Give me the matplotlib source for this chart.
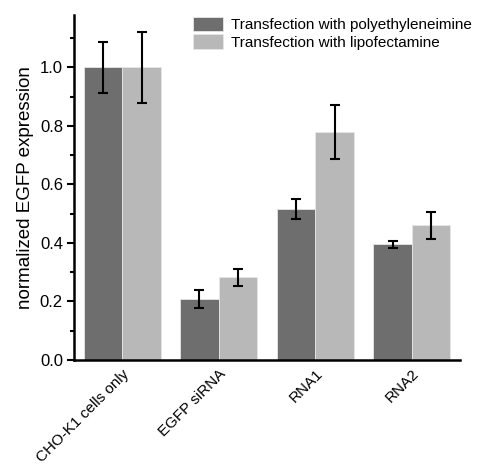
import numpy as np
import matplotlib.pyplot as plt
from matplotlib.ticker import MultipleLocator

plt.rcParams['font.family'] = ['Liberation Sans', 'DejaVu Sans']

# data
categories = ['CHO-K1 cells only', 'EGFP siRNA', 'RNA1', 'RNA2']
pei_vals = [1.0, 0.208, 0.516, 0.395]
pei_err = [0.087, 0.031, 0.033, 0.013]
lipo_vals = [1.0, 0.282, 0.779, 0.460]
lipo_err = [0.122, 0.028, 0.093, 0.045]
labels = ['Transfection with polyethyleneimine', 'Transfection with lipofectamine']

fig = plt.figure(figsize=(4.79, 4.66), dpi=100)
ax = fig.add_axes([0.1545, 0.2275, 0.806, 0.741])

x = np.arange(len(categories))
w = 0.4
ax.bar(x - w / 2, pei_vals, w, color='#6e6e6e', edgecolor='#e6e6e6', linewidth=0.6,
       label=labels[0])
ax.bar(x + w / 2, lipo_vals, w, color='#b8b8b8', edgecolor='#e6e6e6', linewidth=0.6,
       label=labels[1])
ax.errorbar(x - w / 2, pei_vals, yerr=pei_err, fmt='none', ecolor='black',
            elinewidth=1.5, capsize=3.5, capthick=1.5)
ax.errorbar(x + w / 2, lipo_vals, yerr=lipo_err, fmt='none', ecolor='black',
            elinewidth=1.5, capsize=3.5, capthick=1.5)

ax.set_xlim(-0.5, 3.5)
ax.set_ylim(0, 1.18)
ax.yaxis.set_major_locator(MultipleLocator(0.2))
ax.yaxis.set_minor_locator(MultipleLocator(0.1))
ax.set_yticklabels([f'{v:.1f}' for v in ax.get_yticks()])
ax.set_xticks(x)
ax.set_xticklabels(categories, rotation=45, ha='right', rotation_mode='anchor')

for s in ['top', 'right']:
    ax.spines[s].set_visible(False)
for s in ['left', 'bottom']:
    ax.spines[s].set_linewidth(1.8)

ax.tick_params(axis='y', which='major', length=5, width=1.5, labelsize=12, pad=3)
ax.tick_params(axis='y', which='minor', length=3, width=1.5)
ax.tick_params(axis='x', length=0, labelsize=11, pad=5)
ax.set_ylabel('normalized EGFP expression', fontsize=13.5, labelpad=4)

ax.legend(loc='upper right', bbox_to_anchor=(1.046, 1.012), frameon=False,
          fontsize=11, handlelength=2.0, handleheight=1.05,
          labelspacing=0.16, handletextpad=0.5, borderaxespad=0)

fig.savefig('out.png', dpi=100)
